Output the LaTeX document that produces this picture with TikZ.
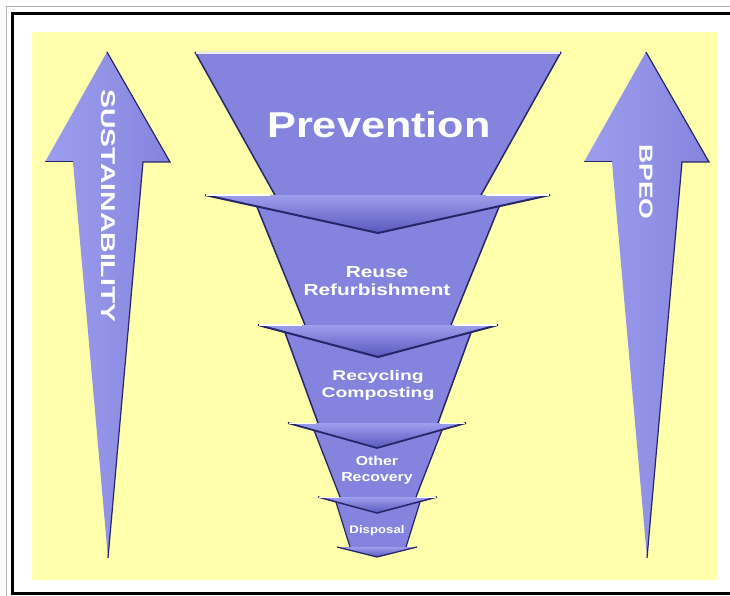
\documentclass[tikz,border=0pt]{standalone}
\usepackage{fontspec}
\setmainfont{Liberation Sans}
\usepackage{tikz}

\definecolor{bgyellow}{RGB}{255,255,172}
\definecolor{funnel}{RGB}{132,132,222}
\definecolor{funnellight}{RGB}{158,158,238}
\definecolor{funneldark}{RGB}{38,38,105}
\definecolor{flangebot}{RGB}{88,88,190}

\begin{document}
\begin{tikzpicture}[x=1pt,y=-1pt]
        \useasboundingbox (0,0) rectangle (730,596);
        \fill[white] (0,0) rectangle (730,596);
        \draw[gray!60, line width=0.8pt] (730,6) -- (6,6) -- (6,596);
        \draw[black, line width=3pt] (730,14) -- (12,14) -- (12,593) -- (730,593);
        \fill[bgyellow] (32,32) rectangle (717,580);

        % side arrows
        \shade[left color=funnellight, right color=funnel] (107,52) -- (170,162) -- (143,162) -- (108,558) -- (73,162) -- (45,162) -- cycle;
        \draw[funneldark, line width=1.2pt] (107,52) -- (170,162) -- (143,162) -- (108,558);
        \draw[funneldark, line width=1pt] (45,162) -- (73,162);
        \shade[left color=funnellight, right color=funnel] (646,52) -- (709,162) -- (682,162) -- (647,558) -- (612,162) -- (584,162) -- cycle;
        \draw[funneldark, line width=1.2pt] (646,52) -- (709,162) -- (682,162) -- (647,558);
        \draw[funneldark, line width=1pt] (584,162) -- (612,162);

        \node [style={text=white, font=\bfseries\fontsize{20}{20}\selectfont, rotate=-90}] (sust) at (108,206) {\scalebox{1.42}[1]{SUSTAINABILITY}};
        \node [style={text=white, font=\bfseries\fontsize{19}{19}\selectfont, rotate=-90}] (bpeo) at (646,182) {\scalebox{1.4}[1]{BPEO}};

        % funnel tiers
        \fill[funnel] (195,52) -- (561,52) -- (480,197) -- (276,197) -- cycle;
        \draw[funneldark, line width=1.5pt] (195,52) -- (276,197) (561,52) -- (480,197);
        \draw[white!85!funnel, line width=2pt] (196,53) -- (560,53);
        \fill[funnel] (253,197) -- (503,197) -- (451,325) -- (305,325) -- cycle;
        \draw[funneldark, line width=1.5pt] (253,197) -- (305,325) (503,197) -- (451,325);
        \fill[funnel] (283,327) -- (473,327) -- (438,423) -- (318,423) -- cycle;
        \draw[funneldark, line width=1.5pt] (283,327) -- (318,423) (473,327) -- (438,423);
        \fill[funnel] (312,425) -- (444,425) -- (416,497) -- (340,497) -- cycle;
        \draw[funneldark, line width=1.3pt] (312,425) -- (340,497) (444,425) -- (416,497);
        \fill[funnel] (335,499) -- (421,499) -- (406,547) -- (350,547) -- cycle;
        \draw[funneldark, line width=1.2pt] (335,499) -- (350,547) (421,499) -- (406,547);

        % flanges
        \shade[top color=funnellight, bottom color=flangebot] (205,195) -- (550,195) -- (378,233) -- cycle;
        \draw[funneldark, line width=2pt] (205,195) -- (378,233) -- (550,195);
        \draw[white, line width=1.2pt] (206,195) -- (270,195) (486,195) -- (549,195);
        \shade[top color=funnellight, bottom color=flangebot] (258,325) -- (498,325) -- (378,357) -- cycle;
        \draw[funneldark, line width=2pt] (258,325) -- (378,357) -- (498,325);
        \draw[white, line width=1.2pt] (259,325) -- (302,325) (454,325) -- (497,325);
        \shade[top color=funnellight, bottom color=flangebot] (288,423) -- (466,423) -- (377,448) -- cycle;
        \draw[funneldark, line width=1.8pt] (288,423) -- (377,448) -- (466,423);
        \draw[white, line width=1pt] (289,423) -- (316,423) (440,423) -- (465,423);
        \shade[top color=funnellight, bottom color=flangebot] (318,497) -- (437,497) -- (377,513) -- cycle;
        \draw[funneldark, line width=1.5pt] (318,497) -- (377,513) -- (437,497);
        \draw[white, line width=1pt] (319,497) -- (339,497) (417,497) -- (436,497);
        \shade[top color=funnellight, bottom color=flangebot] (337,547) -- (417,547) -- (377,557) -- cycle;
        \draw[funneldark, line width=1.3pt] (337,547) -- (377,557) -- (417,547);

        % labels
        \node [style={text=white, font=\bfseries\fontsize{36}{36}\selectfont}] (prev) at (379,125) {\scalebox{1.2}[1]{Prevention}};
        \node [style={text=white, font=\bfseries\fontsize{16}{16}\selectfont, align=center}] (reuse) at (377,281) {\scalebox{1.3}[1]{Reuse}\\[2pt]\scalebox{1.3}[1]{Refurbishment}};
        \node [style={text=white, font=\bfseries\fontsize{14}{14}\selectfont, align=center}] (recyc) at (378,385) {\scalebox{1.38}[1]{Recycling}\\[3pt]\scalebox{1.38}[1]{Composting}};
        \node [style={text=white, font=\bfseries\fontsize{13}{13}\selectfont, align=center}] (other) at (377,470) {\scalebox{1.22}[1]{Other}\\[3pt]\scalebox{1.22}[1]{Recovery}};
        \node [style={text=white, font=\bfseries\fontsize{11}{11}\selectfont}] (disp) at (377,531) {\scalebox{1.2}[1]{Disposal}};
    \end{tikzpicture}
\end{document}
